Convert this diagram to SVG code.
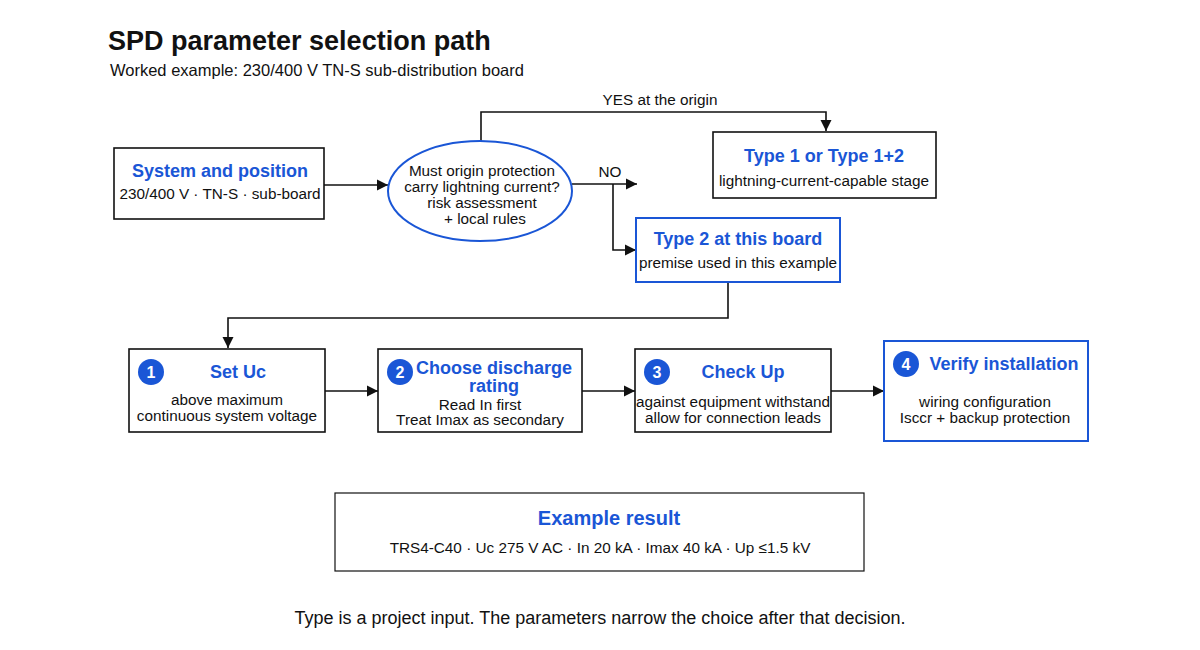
<svg xmlns="http://www.w3.org/2000/svg" width="1200" height="650" viewBox="0 0 1200 650">
<style>
text{font-family:"Liberation Sans",Arial,sans-serif;fill:#111}
.t{fill:#1a56d6;font-weight:bold;font-size:18px}
.s{font-size:15.3px}
.b{fill:#fff;stroke:#111;stroke-width:1.6}
.bb{fill:#fff;stroke:#1a56d6;stroke-width:2}
.c{fill:none;stroke:#111;stroke-width:1.6}
.n{fill:#1a56d6}
.nt{fill:#fff;font-weight:bold;font-size:16px}
</style>
<defs><marker id="a" viewBox="0 0 10 10" refX="10" refY="5" markerWidth="7" markerHeight="7" orient="auto"><path d="M0,0L10,5L0,10z" fill="#111"/></marker></defs>
<rect width="1200" height="650" fill="#fff"/>
<text x="108" y="50" font-size="27" font-weight="bold">SPD parameter selection path</text>
<text x="110" y="76" font-size="16.5">Worked example: 230/400 V TN-S sub-distribution board</text>
<g id="connectors">
<path class="c" d="M324,185H388" marker-end="url(#a)"/>
<path class="c" d="M572,184H637" marker-end="url(#a)"/>
<path class="c" d="M613,184V250H636" marker-end="url(#a)"/>
<path class="c" d="M481,141V112H826V131" marker-end="url(#a)"/>
<path class="c" d="M728,282V318H228V348" marker-end="url(#a)"/>
<path class="c" d="M325,391H378" marker-end="url(#a)"/>
<path class="c" d="M582,391H635" marker-end="url(#a)"/>
<path class="c" d="M831,391H884" marker-end="url(#a)"/>
<text class="s" x="660" y="105" text-anchor="middle">YES at the origin</text>
<text class="s" x="610" y="177" text-anchor="middle">NO</text>
</g>
<g id="system"><rect class="b" x="114" y="148" width="210" height="71"/>
<text class="t" x="220" y="177" text-anchor="middle">System and position</text>
<text class="s" x="220" y="199" text-anchor="middle">230/400 V · TN-S · sub-board</text></g>
<g id="decision"><ellipse cx="480" cy="191" rx="92" ry="50" fill="#fff" stroke="#1a56d6" stroke-width="2"/>
<g class="s" text-anchor="middle"><text x="482" y="176">Must origin protection</text><text x="482" y="192">carry lightning current?</text><text x="482" y="208">risk assessment</text><text x="485" y="224">+ local rules</text></g></g>
<g id="type1"><rect class="b" x="713" y="132" width="223" height="66"/>
<text class="t" x="824" y="162" text-anchor="middle">Type 1 or Type 1+2</text>
<text class="s" x="824" y="186" text-anchor="middle">lightning-current-capable stage</text></g>
<g id="type2"><rect class="bb" x="636" y="218" width="204" height="64"/>
<text class="t" x="738" y="245" text-anchor="middle">Type 2 at this board</text>
<text class="s" x="738" y="268" text-anchor="middle">premise used in this example</text></g>
<g id="step1"><rect class="b" x="129" y="349" width="196" height="83"/><circle class="n" cx="151" cy="372" r="13"/><text class="nt" x="151" y="378" text-anchor="middle">1</text>
<text class="t" x="238" y="378" text-anchor="middle">Set Uc</text>
<text class="s" x="227" y="405" text-anchor="middle">above maximum</text><text class="s" x="227" y="421" text-anchor="middle">continuous system voltage</text></g>
<g id="step2"><rect class="b" x="378" y="349" width="204" height="83"/><circle class="n" cx="400" cy="372" r="13"/><text class="nt" x="400" y="378" text-anchor="middle">2</text>
<text class="t" x="494" y="374" text-anchor="middle">Choose discharge</text><text class="t" x="494" y="392" text-anchor="middle">rating</text>
<text class="s" x="480" y="410" text-anchor="middle">Read In first</text><text class="s" x="480" y="425" text-anchor="middle">Treat Imax as secondary</text></g>
<g id="step3"><rect class="b" x="635" y="349" width="196" height="83"/><circle class="n" cx="657" cy="372" r="13"/><text class="nt" x="657" y="378" text-anchor="middle">3</text>
<text class="t" x="743" y="378" text-anchor="middle">Check Up</text>
<text class="s" x="733" y="407" text-anchor="middle">against equipment withstand</text><text class="s" x="733" y="423" text-anchor="middle">allow for connection leads</text></g>
<g id="step4"><rect class="bb" x="884" y="341" width="204" height="100"/><circle class="n" cx="906" cy="364" r="13"/><text class="nt" x="906" y="370" text-anchor="middle">4</text>
<text class="t" x="1004" y="370" text-anchor="middle">Verify installation</text>
<text class="s" x="985" y="407" text-anchor="middle">wiring configuration</text><text class="s" x="985" y="423" text-anchor="middle">Isccr + backup protection</text></g>
<g id="result"><rect x="335" y="493" width="529" height="78" fill="#fff" stroke="#111" stroke-width="1.2"/>
<text x="609" y="525" text-anchor="middle" font-size="20" font-weight="bold" style="fill:#1a56d6">Example result</text>
<text class="s" x="600" y="553" text-anchor="middle">TRS4-C40 · Uc 275 V AC · In 20 kA · Imax 40 kA · Up ≤1.5 kV</text></g>
<text x="600" y="624" font-size="18" text-anchor="middle">Type is a project input. The parameters narrow the choice after that decision.</text>
</svg>
